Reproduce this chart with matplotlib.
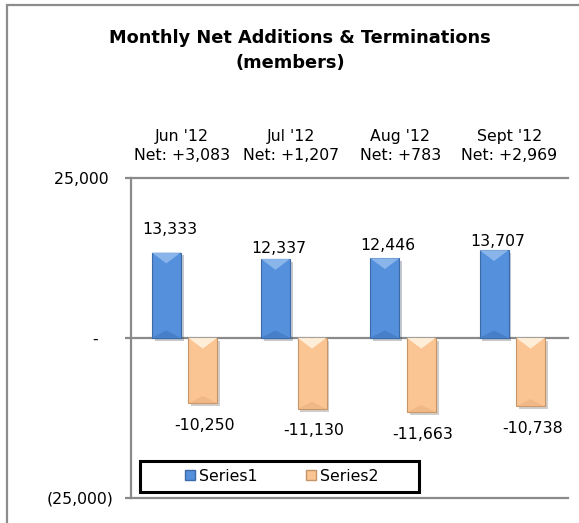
import matplotlib
matplotlib.use("Agg")
import matplotlib.pyplot as plt
from matplotlib.patches import Rectangle, Polygon, Patch
import matplotlib.patheffects as pe
import numpy as np

months = ["Jun '12", "Jul '12", "Aug '12", "Sept '12"]
additions = [13333, 12337, 12446, 13707]
terminations = [-10250, -11130, -11663, -10738]
series_names = ["Series1", "Series2"]
yticks = [-25000, 0, 25000]
ytick_labels = ["(25,000)", "-   ", "25,000 "]

W, H = 579, 523
DPI = 100
plt.rcParams['font.family'] = ['DejaVu Sans']
fig = plt.figure(figsize=(W / DPI, H / DPI), dpi=DPI)

# outer chart frame (only top and left edges visible)
fig.add_artist(Rectangle((7 / W, -0.05), 1.2, 1 - 5 / H + 0.05, transform=fig.transFigure,
                         fill=False, edgecolor='#8c8c8c', linewidth=1.6))

ax = fig.add_axes([131 / W, 1 - 497.5 / H, (568 - 131) / W, (497.5 - 178) / H])
ax.set_xlim(-0.5, 3.5)
ax.set_ylim(-25000, 25000)

grey = '#8a8a8a'
for s in ['right', 'top', 'bottom']:
    ax.spines[s].set_visible(False)
ax.spines['left'].set_color(grey)
ax.spines['left'].set_linewidth(1.6)
for yv in yticks:
    ax.axhline(yv, color=grey, linewidth=1.6, zorder=1, clip_on=False)

ax.set_yticks(yticks)
ax.set_yticklabels(ytick_labels, fontsize=11.3)
ax.tick_params(axis='y', length=4.5, width=1.6, color=grey, pad=8)
ax.set_xticks([])

x = np.arange(len(months))
bw = 0.265
blue_off, orange_off = -0.177, 0.157
blue, blue_edge, blue_light, blue_dark = '#5590dc', '#3b6aa6', '#8fbaec', '#3f74bd'
org, org_edge, org_light, org_dark = '#fac592', '#c59468', '#fff3e0', '#e8b07e'

shadow = [pe.SimplePatchShadow(offset=(2, -2), alpha=0.25), pe.Normal()]
b1 = ax.bar(x + blue_off, additions, bw, color=blue, edgecolor=blue_edge, linewidth=0.8,
            zorder=3, path_effects=shadow)
b2 = ax.bar(x + orange_off, terminations, bw, color=org, edgecolor=org_edge, linewidth=0.8,
            zorder=3, path_effects=shadow)

# bevel highlights derived from each bar's geometry
fig.canvas.draw()
inv = ax.transData.inverted()
def bevel(bars, light, dark, positive):
    for p in bars:
        x0, y0 = p.get_x(), p.get_y()
        w, h = p.get_width(), p.get_height()
        top = y0 + h if positive else y0
        bot = y0 if positive else y0 + h
        px = ax.transData.transform([(x0, top), (x0 + w, top)])
        wpx = px[1][0] - px[0][0]
        d = wpx * 0.5
        p1 = inv.transform((px[0][0] + d, px[0][1] - d * 0.75))
        tri = Polygon([(x0, top), (x0 + w, top), (p1[0], p1[1])], closed=True,
                      facecolor=light, edgecolor='none', zorder=4, alpha=0.9)
        ax.add_patch(tri)
        pb = ax.transData.transform([(x0, bot)])[0]
        p2 = inv.transform((pb[0] + d, pb[1] + d * 0.5))
        tri2 = Polygon([(x0, bot), (x0 + w, bot), (p2[0], p2[1])], closed=True,
                       facecolor=dark, edgecolor='none', zorder=4, alpha=0.6)
        ax.add_patch(tri2)

bevel(b1, blue_light, blue_dark, True)
bevel(b2, org_light, org_dark, False)

# value labels
pos_offsets_px = [22.7, 10.8, 13.0, 8.5]
for i, v in enumerate(additions):
    ax.annotate(f"{v:,}", (x[i] + blue_off, v), xytext=(2.5, pos_offsets_px[i] * 0.72),
                textcoords='offset points', ha='center', va='center', fontsize=11.3)
for i, v in enumerate(terminations):
    ax.annotate(f"{v:,}", (x[i] + orange_off, v), xytext=(1.2, -22 * 0.72),
                textcoords='offset points', ha='center', va='center', fontsize=11.3)

# column headers
trans = matplotlib.transforms.blended_transform_factory(ax.transData, fig.transFigure)
for i, m in enumerate(months):
    net = additions[i] + terminations[i]
    ax.text(x[i] - 0.035, 1 - 137 / H, m, transform=trans, ha='center', va='center', fontsize=11.3)
    ax.text(x[i] - 0.035, 1 - 156 / H, f"Net: {net:+,}", transform=trans, ha='center',
            va='center', fontsize=11.3)

# title
fig.text(300 / W, 1 - 38 / H, "Monthly Net Additions & Terminations", ha='center', va='center',
         fontsize=12.8, fontweight='bold')
fig.text(290 / W, 1 - 63 / H, "(members)", ha='center', va='center', fontsize=12.8,
         fontweight='bold')

# legend
lx0, lx1 = (140 - 131) / 437, (419 - 131) / 437
ly0, ly1 = (497.5 - 491.7) / 319.5, (497.5 - 460.7) / 319.5
ax.add_patch(Rectangle((lx0, ly0), lx1 - lx0, ly1 - ly0, transform=ax.transAxes, fill=True,
                       facecolor='white', edgecolor='black', linewidth=2.2, zorder=5))
handles = [Patch(facecolor=blue, edgecolor=blue_edge), Patch(facecolor=org, edgecolor=org_edge)]
leg = ax.legend(handles, series_names, loc='center', bbox_to_anchor=(0.345, (ly0 + ly1) / 2),
                ncol=2, frameon=False, fontsize=11.3, handlelength=0.65, handleheight=0.65,
                handletextpad=0.25, columnspacing=3.1, borderpad=0)
leg.set_zorder(6)

fig.savefig("out.png", dpi=DPI)
